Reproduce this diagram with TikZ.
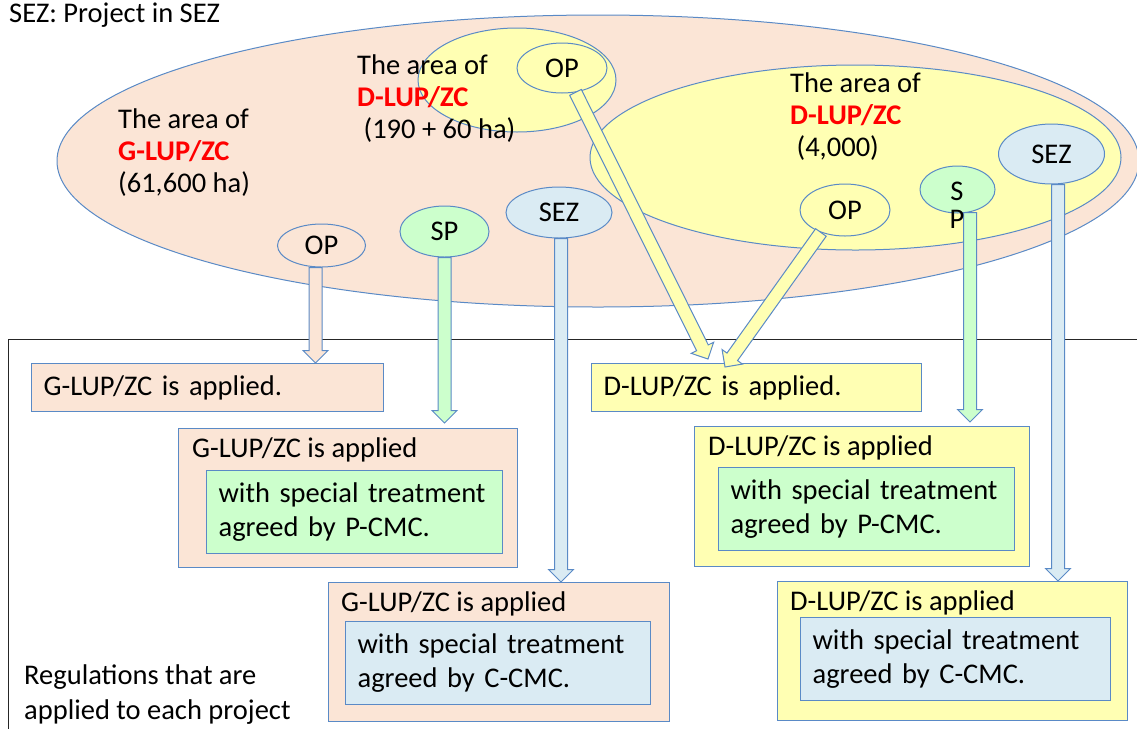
\documentclass[tikz,border=0pt]{standalone}
\usepackage{fontspec}
\setmainfont{Carlito}
\usetikzlibrary{calc, positioning, shapes.geometric}

\definecolor{zoneSalmon}{HTML}{FBE5D6}
\definecolor{zoneYellow}{HTML}{FFFFB3}
\definecolor{projGreen}{HTML}{CCFFCC}
\definecolor{projBlue}{HTML}{DAEBF3}
\definecolor{edgeBlue}{HTML}{5A8AC6}

\newcommand{\blockarrow}[3]{%
  \coordinate (ba-s) at (#2);
  \coordinate (ba-t) at (#3);
  \coordinate (ba-h) at ($(ba-t)!12.5pt!(ba-s)$);
  \draw[barrow, fill=#1] ($(ba-s)!6.5pt!90:(ba-t)$) -- ($(ba-h)!6.5pt!90:(ba-t)$)
    -- ($(ba-h)!12.5pt!90:(ba-t)$) -- (ba-t) -- ($(ba-h)!12.5pt!-90:(ba-t)$)
    -- ($(ba-h)!6.5pt!-90:(ba-t)$) -- ($(ba-s)!6.5pt!-90:(ba-t)$) -- cycle;
}

\begin{document}
\begin{tikzpicture}[
  x=1pt, y=-1pt,
  every node/.style={font=\fontsize{28.5}{34.5}\selectfont},
  zone/.style={ellipse, draw=edgeBlue, line width=1pt, inner sep=0pt},
  proj/.style={ellipse, draw=edgeBlue, line width=1pt, inner sep=0pt},
  rule/.style={draw=edgeBlue, line width=1.2pt, inner sep=0pt, anchor=north west},
  ruletext/.style={rule, inner xsep=12pt, align=left, minimum height=48},
  inner/.style={rule, inner xsep=12pt, align=left, minimum height=83},
  note/.style={inner sep=0pt, anchor=base west, align=left},
  zonelabel/.style={note, font=\fontsize{28.5}{32}\selectfont},
  barrow/.style={draw=edgeBlue, line width=1pt, line join=miter}
]
\useasboundingbox (0,0) rectangle (1137,729);
\clip (0,0) rectangle (1137,729);

\node[note] (title) at (9,22) {SEZ: Project in SEZ};

\node[zone, fill=zoneSalmon, minimum width=1082, minimum height=292] (gZone) at (598,161) {};
\node[zone, fill=zoneYellow, minimum width=198, minimum height=104] (dZoneA) at (517,80) {};
\node[zone, fill=zoneYellow, minimum width=531, minimum height=185] (dZoneB) at (855.5,157.5) {};

\node[zonelabel] (gLabel) at (118,192) {The area of\\\textbf{\color{red}G-LUP/ZC}\\(61,600 ha)};
\node[zonelabel] (dLabelA) at (357,138) {The area of\\\textbf{\color{red}D-LUP/ZC}\\\ (190 + 60 ha)};
\node[zonelabel] (dLabelB) at (790,156) {The area of\\\textbf{\color{red}D-LUP/ZC}\\\ (4,000)};

\node[proj, fill=zoneSalmon, minimum width=88, minimum height=43] (opG) at (321.5,245.5) {OP};
\node[proj, fill=projGreen, minimum width=89, minimum height=51] (spG) at (444.5,231.5) {SP};
\node[proj, fill=projBlue, minimum width=106, minimum height=51] (sezG) at (559,212.5) {SEZ};
\node[proj, fill=zoneYellow, minimum width=90, minimum height=50] (opDA) at (562,68) {OP};
\node[proj, fill=zoneYellow, minimum width=90, minimum height=52] (opDB) at (845,210) {OP};
\node[proj, fill=projGreen, minimum width=75, minimum height=47] (spD) at (957.5,189.5) {};
\node[proj, fill=projBlue, minimum width=106, minimum height=60] (sezD) at (1051.5,154) {SEZ};

\draw[line width=1pt, draw=black!85] (1137,339) -- (8,339) -- (8,729);

\node[ruletext, fill=zoneSalmon, text width=328] (gApplied) at (31,363) {G-LUP/ZC is applied.};
\node[rule, fill=zoneSalmon, minimum width=339, minimum height=139] (gSP) at (178,428) {};
\node[note] (gSPtext) at (192,457) {G-LUP/ZC is applied};
\node[inner, fill=projGreen, text width=272] (gSPin) at (206,470) {with special treatment\\agreed by P-CMC.};
\node[rule, fill=zoneSalmon, minimum width=341, minimum height=139] (gSEZ) at (328,582) {};
\node[note] (gSEZtext) at (341,611) {G-LUP/ZC is applied};
\node[inner, fill=projBlue, text width=281] (gSEZin) at (345,621) {with special treatment\\agreed by C-CMC.};

\node[ruletext, fill=zoneYellow, text width=306] (dApplied) at (591,363) {D-LUP/ZC is applied.};
\node[rule, fill=zoneYellow, minimum width=335, minimum height=140] (dSP) at (694,426) {};
\node[note] (dSPtext) at (708,455) {D-LUP/ZC is applied};
\node[inner, fill=projGreen, text width=272] (dSPin) at (718,467) {with special treatment\\agreed by P-CMC.};
\node[rule, fill=zoneYellow, minimum width=350, minimum height=139] (dSEZ) at (777,581) {};
\node[note] (dSEZtext) at (790,610) {D-LUP/ZC is applied};
\node[inner, fill=projBlue, text width=286] (dSEZin) at (800,617) {with special treatment\\agreed by C-CMC.};

\node[note] (legend) at (24,719) {Regulations that are\\applied to each project};

\coordinate (opGfoot) at ($(opG.south)+(-6,0)$);
\coordinate (sezGfoot) at ($(sezG.south)+(2,0)$);
\coordinate (spDfoot) at ($(spD.south)+(12.5,-1)$);
\coordinate (sezDfoot) at ($(sezD.south)+(6.5,0)$);
\coordinate (spGtip) at ($(spG.south |- gSP.north)+(0,-5)$);
\coordinate (spDtip) at ($(spDfoot |- dSP.north)+(0,-4)$);
\coordinate (dTipA) at ($(dApplied.north west)+(117,-4)$);
\coordinate (dTipB) at ($(dApplied.north west)+(134,4)$);

\blockarrow{zoneSalmon}{opGfoot}{opGfoot |- gApplied.north}
\blockarrow{projGreen}{spG.south}{spGtip}
\blockarrow{projBlue}{sezGfoot}{sezGfoot |- gSEZ.north}
\blockarrow{zoneYellow}{opDA.-61}{dTipA}
\blockarrow{zoneYellow}{opDB.-137}{dTipB}
\blockarrow{projGreen}{spDfoot}{spDtip}
\blockarrow{projBlue}{sezDfoot}{sezDfoot |- dSEZ.north}

\node[inner sep=0pt, align=center, font=\fontsize{28.5}{28}\selectfont] (spDtext) at (957,205) {S\\P};
\end{tikzpicture}
\end{document}
